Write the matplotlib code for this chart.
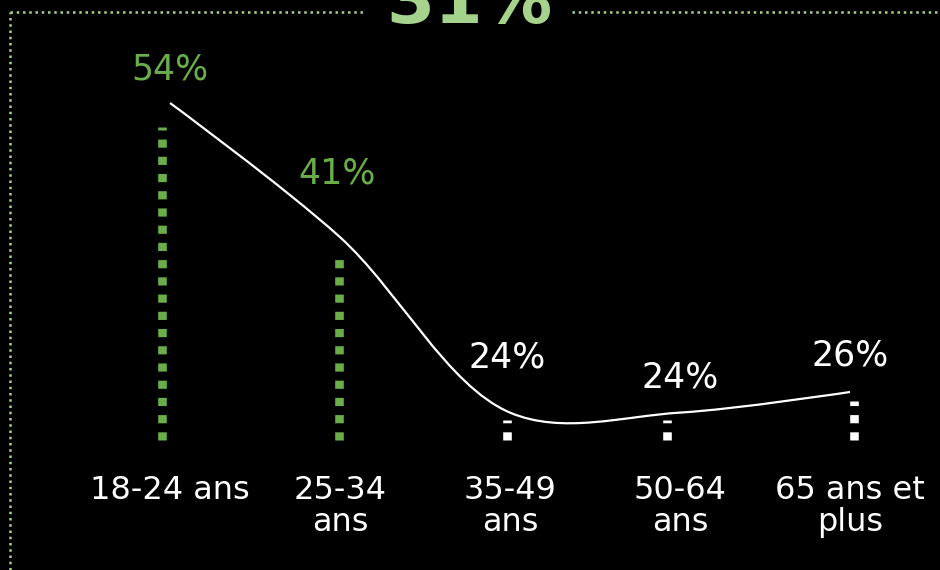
import matplotlib.pyplot as plt
from matplotlib.path import Path
from matplotlib.patches import PathPatch
from matplotlib.lines import Line2D
import numpy as np

categories = ["18-24 ans", "25-34\nans", "35-49\nans", "50-64\nans", "65 ans et\nplus"]
values = [54, 41, 24, 24, 26]
labels = ["54%", "41%", "24%", "24%", "26%"]
headline = "31%"

green = "#6aae4a"
light_green = "#a6d38c"
label_colors = [green, green, "white", "white", "white"]
bar_colors = [green, green, "white", "white", "white"]
# small horizontal nudges of the dotted bars (pixels) and label offsets above the line
bar_nudge_px = [-8, -1, -3, -13, 4]
label_dx_px = [0, -3, -3, 0, 0]
label_dy_px = [33, 64, 55, 35, 36]
bar_base = 22


def catmull_rom(p, alpha=0.5):
    # centripetal catmull-rom -> cubic bezier (same scheme as d3.curveCatmullRom)
    n = len(p)
    verts = [tuple(p[0])]
    codes = [Path.MOVETO]
    d = [np.hypot(*(p[i + 1] - p[i])) for i in range(n - 1)]
    for i in range(n - 1):
        a1, a2 = p[i].copy(), p[i + 1].copy()
        l12_2a = d[i] ** (2 * alpha)
        l12_a = d[i] ** alpha
        if i > 0:
            l01_2a, l01_a = d[i - 1] ** (2 * alpha), d[i - 1] ** alpha
            a = 2 * l01_2a + 3 * l01_a * l12_a + l12_2a
            nn = 3 * l01_a * (l01_a + l12_a)
            a1 = (p[i] * a - p[i - 1] * l12_2a + p[i + 1] * l01_2a) / nn
        if i < n - 2:
            l23_2a, l23_a = d[i + 1] ** (2 * alpha), d[i + 1] ** alpha
            b = 2 * l23_2a + 3 * l23_a * l12_a + l12_2a
            m = 3 * l23_a * (l23_a + l12_a)
            a2 = (p[i + 1] * b + p[i] * l23_2a - p[i + 2] * l12_2a) / m
        verts += [tuple(a1), tuple(a2), tuple(p[i + 1])]
        codes += [Path.CURVE4] * 3
    return np.array(verts), codes


W, H = 940, 570
fig = plt.figure(figsize=(9.4, 5.7), dpi=100, facecolor="black")
plt.rcParams['font.family'] = ['DejaVu Sans']

ax = fig.add_axes([0, 0, 1, 1])
ax.set_facecolor("black")
ax.set_xlim(-1, (W - 170) / 170)
ax.set_ylim(8.71, 66.99)
ax.axis("off")

ax2 = ax.twinx()
ax2.set_ylim(8.75, 63.98)
ax2.axis("off")

x = np.arange(len(values))

# dotted bars
for i, v in enumerate(values):
    xb = x[i] + bar_nudge_px[i] / 170
    ax.plot([xb, xb], [bar_base, v], color=bar_colors[i], lw=6.2,
            dashes=(0.95, 1.05), dash_capstyle="butt")

# smooth line, built in pixel space then mapped back to data
pts = ax2.transData.transform(np.column_stack([x, values]).astype(float))
verts, codes = catmull_rom(pts)
verts = ax2.transData.inverted().transform(verts)
ax2.add_patch(PathPatch(Path(verts, codes), facecolor="none",
                        edgecolor="white", lw=1.6))

# value labels
for i, v in enumerate(values):
    ax2.annotate(labels[i], (x[i], v), xytext=(label_dx_px[i], label_dy_px[i]),
                 textcoords="offset pixels", ha="center", va="center",
                 color=label_colors[i], fontsize=25)

# category labels
for i, c in enumerate(categories):
    ax.annotate(c, (x[i], 0), xycoords=("data", "figure pixels"),
                xytext=(0, H - 475), textcoords="offset pixels",
                ha="center", va="top", color="white", fontsize=23,
                linespacing=1.05)

# headline and dotted frame
fig.text(469 / W, 1 - 23 / H, headline, ha="center", va="baseline",
         color=light_green, fontsize=50, fontweight="bold")
ty = 1 - 11.5 / H
lx = 10 / W
frame_style = dict(color=light_green, lw=1.8, dashes=(1.0, 1.5),
                   dash_capstyle="butt", transform=fig.transFigure)
fig.add_artist(Line2D([lx, lx], [0, ty], **frame_style))
fig.add_artist(Line2D([lx, 363 / W], [ty, ty], **frame_style))
fig.add_artist(Line2D([572 / W, 1], [ty, ty], **frame_style))

fig.savefig("out.png", dpi=100, facecolor="black")
